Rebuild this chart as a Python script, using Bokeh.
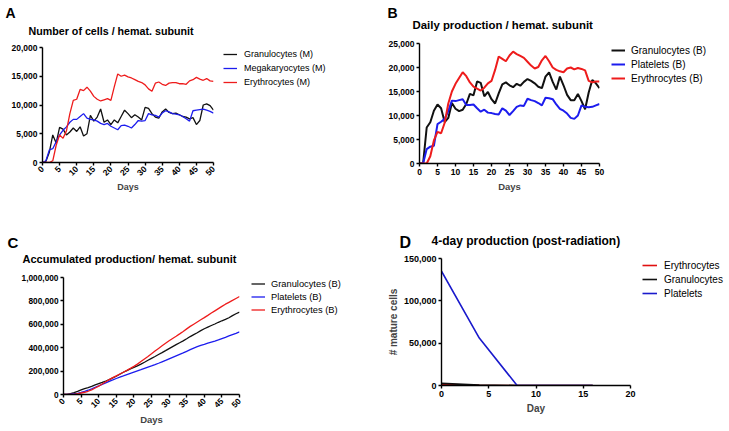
import math
from bokeh.plotting import figure
from bokeh.models import (Legend, LegendItem, FixedTicker, NumeralTickFormatter, Range1d)
from bokeh.core.properties import value
from bokeh.layouts import column, row
from bokeh.embed import file_html
from bokeh.resources import INLINE

FONT = "Liberation Sans"
RED = "#ee1c1c"
BLUE = "#1c1cee"
BLACK = "#111111"

# ---------------- data ----------------
days = list(range(51))
days_ticks = [0, 5, 10, 15, 20, 25, 30, 35, 40, 45, 50]

# Panel A: number of cells / hemat. subunit (M)
a_gran = [0, 200, 1800, 4800, 3400, 6100, 5800, 4800, 5300, 6000, 5400, 6200, 4600, 5000, 8200,
          7200, 7900, 9300, 7000, 7400, 6600, 7400, 6900, 8000, 9100, 8500, 7800, 8300, 7900, 7400,
          9600, 9400, 8500, 7900, 7700, 8800, 9300, 8700, 8500, 8600, 8300, 8000, 7900, 7600, 7800,
          6600, 7300, 10000, 10200, 9900, 9100]
a_mega = [0, 300, 2200, 2400, 3600, 4800, 5600, 6200, 7000, 7500, 7500, 8000, 8500, 7700, 7500,
          7400, 7200, 6800, 6600, 6800, 6300, 6000, 5700, 6400, 6500, 6300, 6000, 6600, 7300, 7200,
          7300, 8500, 8300, 8200, 7900, 8600, 9000, 8800, 8500, 8400, 8300, 8000, 7600, 7200, 9000,
          9100, 9200, 9300, 9100, 8900, 8600]
a_eryt = [0, 0, 0, 300, 3000, 4800, 4200, 5500, 8500, 10800, 11000, 12700, 12500, 13100, 12400,
          11500, 11000, 10700, 10900, 11100, 10800, 13200, 15400, 15000, 15200, 14900, 14700, 14400,
          14100, 13900, 13500, 12800, 12400, 13800, 14000, 13600, 13400, 13800, 13900, 13900, 13700,
          13700, 13600, 14200, 14400, 14800, 14500, 14300, 14600, 14200, 14100]
a_yticks = [0, 5000, 10000, 15000, 20000]

# Panel B: daily production / hemat. subunit (B)
b_gran = [0, 0, 7500, 8600, 11000, 12300, 11500, 8600, 9500, 12600, 11400, 10900, 11200, 12400,
          14500, 14200, 17100, 16800, 14000, 14900, 13400, 12500, 14600, 16500, 16900, 16300, 15900,
          16600, 16200, 17000, 17600, 17200, 16700, 16000, 15700, 18100, 19000, 17000, 15400, 18100,
          16300, 14300, 13200, 13200, 14500, 13000, 11300, 14800, 17400, 16700, 15700]
b_plat = [0, 0, 3000, 3500, 3700, 8200, 8700, 9300, 10900, 13100, 13000, 13200, 13400, 12200,
          12200, 12300, 11500, 10800, 11200, 10600, 10500, 10300, 10200, 11500, 11000, 10100, 10900,
          11800, 12100, 12000, 13500, 13200, 13000, 12600, 12100, 13700, 13600, 13400, 12300, 11400,
          11000, 10400, 9500, 9300, 10000, 12100, 11800, 11700, 11800, 12100, 12400]
b_eryt = [0, 0, 0, 1500, 4800, 6600, 6300, 8500, 12500, 15000, 16600, 17800, 19000, 18200, 16900,
          16000, 15600, 15200, 15800, 16700, 17200, 19500, 22300, 21800, 21300, 22500, 23300, 22800,
          22400, 22000, 21200, 20400, 19800, 20100, 21500, 22400, 21300, 20000, 19500, 19200, 19000,
          19800, 20000, 19600, 19900, 19700, 19400, 17200, 16900, 17100, 17100]
b_yticks = [0, 5000, 10000, 15000, 20000, 25000]

# Panel C: accumulated production / hemat. subunit (B)
c_gran = [0, 0, 7500, 16100, 27100, 39400, 50900, 59500, 69000, 81600, 93000, 103900, 115100,
          127500, 142000, 156200, 173300, 190100, 204100, 219000, 232400, 244900, 259500, 276000,
          292900, 309200, 325100, 341700, 357900, 374900, 392500, 409700, 426400, 442400, 458100,
          476200, 495200, 512200, 527600, 545700, 562000, 576300, 589500, 602700, 617200, 630200,
          641500, 656300, 673700, 690400, 704000]
c_plat = [0, 0, 3000, 6500, 10200, 18400, 27100, 36400, 47300, 60400, 73400, 86600, 100000,
          112200, 124400, 136700, 148200, 159000, 170200, 180800, 191300, 201600, 211800, 223300,
          234300, 244400, 255300, 267100, 279200, 291200, 304700, 317900, 330900, 343500, 355600,
          369300, 382900, 396300, 408600, 420000, 429000, 439000, 448000, 457000, 467000, 478000,
          489000, 501000, 512000, 523000, 535000]
c_eryt = [0, 0, 0, 1500, 6300, 12900, 19200, 27700, 40200, 55200, 71800, 89600, 108600, 126800,
          143700, 159700, 175300, 190500, 206300, 223000, 240200, 259700, 282000, 303800, 325100,
          347600, 370900, 393700, 416100, 438100, 459000, 479000, 498000, 518000, 539000, 561000,
          582000, 601000, 620000, 639000, 657000, 676000, 696000, 715000, 734000, 753000, 772000,
          788000, 804000, 821000, 838000]
c_yticks = [0, 200000, 400000, 600000, 800000, 1000000]

# Panel D: 4-day production (post-radiation)
d_days = [0, 4, 8, 12, 16]
d_eryt = [1500, 200, 0, 0, 0]
d_gran = [2500, 400, 0, 0, 0]
d_plat = [135000, 56000, 0, 0, 0]
d_xticks = [0, 5, 10, 15, 20]
d_yticks = [0, 50000, 100000, 150000]

NAN = float("nan")


def make_panel(width, height, left, fw, top, fh, xend, yend, xticks, yticks,
               rotate, tick_fs, xlabel, xlabel_fs, xlabel_standoff):
    p = figure(width=width, height=height, output_backend="svg", toolbar_location=None,
               x_range=Range1d(0, xend), y_range=Range1d(0, yend),
               min_border_left=left, min_border_right=width - left - fw,
               min_border_top=top, min_border_bottom=height - top - fh)
    p.outline_line_color = None
    p.xgrid.visible = False
    p.ygrid.visible = False
    for ax in (p.xaxis[0], p.yaxis[0]):
        ax.axis_line_width = 1.4
        ax.axis_line_color = "black"
        ax.major_tick_line_width = 1.4
        ax.major_tick_line_color = "black"
        ax.major_tick_out = 3
        ax.major_tick_in = 0
        ax.minor_tick_out = 0
        ax.minor_tick_in = 0
        ax.major_label_text_font = FONT
        ax.major_label_text_font_style = "bold"
        ax.major_label_text_font_size = tick_fs
        ax.major_label_text_color = "black"
        ax.major_label_standoff = 2
    p.xaxis[0].ticker = FixedTicker(ticks=xticks)
    p.yaxis[0].ticker = FixedTicker(ticks=yticks)
    p.yaxis[0].formatter = NumeralTickFormatter(format="0,0")
    if rotate:
        p.xaxis[0].major_label_orientation = math.pi / 4
    p.xaxis[0].axis_label = xlabel
    p.xaxis[0].axis_label_text_font = FONT
    p.xaxis[0].axis_label_text_font_style = "bold"
    p.xaxis[0].axis_label_text_font_size = xlabel_fs
    p.xaxis[0].axis_label_standoff = xlabel_standoff
    return p


def blank_fig(width, height):
    f = figure(width=width, height=height, output_backend="svg", toolbar_location=None,
               x_range=Range1d(0, width), y_range=Range1d(0, height),
               x_axis_type=None, y_axis_type=None, min_border=0)
    f.outline_line_color = None
    return f


def make_header(width, height, texts):
    h = blank_fig(width, height)
    for tx, ty, txt, fs in texts:
        h.text(x=[tx], y=[ty], text=[txt], text_font=value(FONT), text_font_style="bold",
               text_font_size=value(fs), text_align="left", text_baseline="middle",
               text_color="black")
    return h


def make_legend(width, height, entries, pad, fs, row_h, standoff, glyph_w):
    lf = blank_fig(width, height)
    items = []
    for label, color, lw in entries:
        # proxy renderer (no visible point) that only supplies the legend glyph style
        r = lf.line(x=[NAN], y=[NAN], line_color=color, line_width=lw)
        items.append(LegendItem(label=label, renderers=[r]))
    leg = Legend(items=items, location="top_left", padding=pad, margin=0, spacing=0,
                 label_height=row_h, glyph_height=row_h, glyph_width=glyph_w,
                 label_standoff=standoff, label_text_font=FONT, label_text_font_size=fs,
                 label_text_color="black", border_line_color=None,
                 background_fill_alpha=0, inactive_fill_alpha=0)
    lf.add_layout(leg)
    return lf


# ---------------- Panel A ----------------
hA = make_header(364, 40, [(5, 28, "A", "14px"),
                           (28, 10, "Number of cells / hemat. subunit", "10.7px")])
pA = make_panel(223, 175, 42, 171, 7, 115, 50, 20000, days_ticks, a_yticks,
                True, "8.5px", "Days", "9px", 1)
pA.line(days, a_gran, line_color=BLACK, line_width=1.3)
pA.line(days, a_mega, line_color=BLUE, line_width=1.3)
pA.line(days, a_eryt, line_color=RED, line_width=1.3)
lA = make_legend(141, 175, [("Granulocytes (M)", BLACK, 1.3), ("Megakaryocytes (M)", BLUE, 1.3),
                            ("Erythrocytes (M)", RED, 1.3)], 8, "9px", 14, 7, 14)

# ---------------- Panel B ----------------
hB = make_header(365, 38, [(23, 25.7, "B", "14px"),
                           (48, 14, "Daily production / hemat. subunit", "11.4px")])
pB = make_panel(247, 177, 55, 180, 5, 120, 50, 25000, days_ticks, b_yticks,
                False, "8.5px", "Days", "9.5px", 3)
pB.line(days, b_gran, line_color=BLACK, line_width=2)
pB.line(days, b_plat, line_color=BLUE, line_width=2)
pB.line(days, b_eryt, line_color=RED, line_width=2)
lB = make_legend(118, 177, [("Granulocytes (B)", BLACK, 2), ("Platelets (B)", BLUE, 2),
                            ("Erythrocytes (B)", RED, 2)], 10, "10px", 14, 6, 14)

# ---------------- Panel C ----------------
hC = make_header(364, 55, [(7, 28.5, "C", "15px"),
                           (22, 11.5, "Accumulated production/ hemat. subunit", "11px")])
pC = make_panel(251, 161, 63, 176, 7, 117, 50, 1000000, days_ticks, c_yticks,
                True, "8.3px", "Days", "9.5px", 1)
pC.line(days, c_gran, line_color=BLACK, line_width=1.3)
pC.line(days, c_plat, line_color=BLUE, line_width=1.3)
pC.line(days, c_eryt, line_color=RED, line_width=1.3)
lC = make_legend(113, 161, [("Granulocytes (B)", BLACK, 1.3), ("Platelets (B)", BLUE, 1.3),
                            ("Erythrocytes (B)", RED, 1.3)], 10, "9.3px", 13, 6, 14)

# ---------------- Panel D ----------------
hD = make_header(365, 38, [(35, 11, "D", "16px"),
                           (67, 13, "4-day production (post-radiation)", "12px")])
pD = make_panel(278, 178, 77, 189, 5, 127, 20, 150000, d_xticks, d_yticks,
                False, "9px", "Day", "10px", 3)
pD.yaxis[0].axis_label = "# mature cells"
pD.yaxis[0].axis_label_text_font = FONT
pD.yaxis[0].axis_label_text_font_style = "bold"
pD.yaxis[0].axis_label_text_font_size = "10px"
pD.yaxis[0].axis_label_standoff = 2
pD.line(d_days, d_eryt, line_color="#e01010", line_width=1.6)
pD.line(d_days, d_gran, line_color=BLACK, line_width=1.6)
pD.line(d_days, d_plat, line_color="#1a1acc", line_width=1.6)
lD = make_legend(87, 178, [("Erythrocytes", "#e01010", 1.6), ("Granulocytes", BLACK, 1.6),
                           ("Platelets", "#1a1acc", 1.6)], 11, "10px", 14, 7, 15)

layout = column(row(column(hA, row(pA, lA)), column(hB, row(pB, lB))),
                row(column(hC, row(pC, lC)), column(hD, row(pD, lD))))
open("out.html", "w").write(file_html(layout, INLINE))
